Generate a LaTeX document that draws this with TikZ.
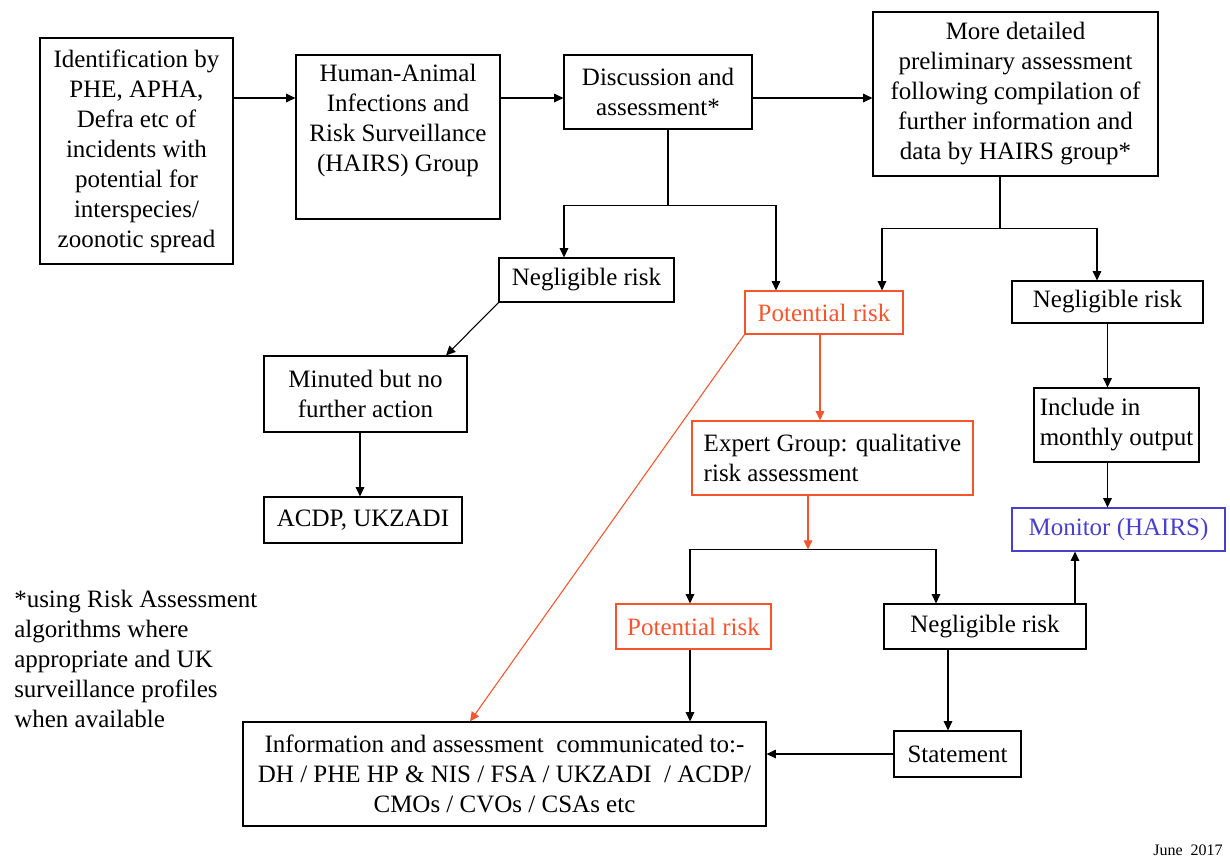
\documentclass[tikz,border=0pt]{standalone}
\usepackage{fontspec}
\setmainfont{Liberation Serif}
\definecolor{riskorange}{RGB}{246,84,44}
\definecolor{hairsblue}{RGB}{72,64,204}
\usetikzlibrary{arrows.meta,calc}

\begin{document}
\begin{tikzpicture}[x=0.75pt,y=-0.75pt,
  font=\fontsize{18.75}{22.5}\selectfont,
  box/.style={draw,line width=0.9pt,inner sep=0pt,align=center},
  sz/.style 2 args={minimum width=#1*0.75pt,minimum height=#2*0.75pt},
  arr/.style={line width=0.8pt,-{Triangle[width=6.5pt,length=7pt]}},
  ln/.style={line width=0.8pt}]
\useasboundingbox (0,0) rectangle (1230,858);

% Top row
\node[box,sz={193}{226}] (ident) at (136.5,151) {Identification by\\PHE, APHA,\\Defra etc of\\incidents with\\potential for\\interspecies/\\zoonotic spread};
\node[box,sz={204}{164}] (hairs) at (398,137) {Human-Animal\\Infections and\\Risk Surveillance\\(HAIRS) Group\\ \strut};
\node[box,sz={188}{74}] (disc) at (658,92) {Discussion and\\assessment*};
\node[box,sz={285}{164}] (more) at (1015.5,94) {More detailed\\preliminary assessment\\following compilation of\\further information and\\data by HAIRS group*};

% First outcomes
\node[box,sz={175}{44}] (neg1) at (586.5,280) {Negligible risk};
\node[box,sz={158}{43},draw=riskorange,text=riskorange] (pot1) at (824,312.5) {Potential risk};
\node[box,sz={191}{42}] (neg2) at (1107.5,302) {Negligible risk};

% Left branch
\node[box,sz={203}{76}] (minuted) at (365.5,394) {Minuted but no\\further action};
\node[box,sz={198}{46}] (acdp) at (363,520) {ACDP, UKZADI};

% Expert group and monitoring
\node[box,sz={281}{74},draw=riskorange,align=left] (expert) at (832.5,458) {Expert Group: qualitative\\risk assessment};
\node[box,sz={165}{74},align=left] (include) at (1116.5,425) {Include in\\monthly output};
\node[box,sz={213}{43},draw=hairsblue,text=hairsblue] (monitor) at (1118.5,529.5) {Monitor (HAIRS)};

% Second outcomes
\node[box,sz={155}{45},draw=riskorange,text=riskorange] (pot2) at (693.5,626.5) {Potential risk};
\node[box,sz={202}{45}] (neg3) at (985,626.5) {Negligible risk};
\node[box,sz={127}{46}] (statement) at (957.5,754) {Statement};
\node[box,sz={523}{104}] (info) at (504.5,774) {Information and assessment~ communicated to:-\\DH / PHE HP \& NIS / FSA / UKZADI~ / ACDP/\\CMOs / CVOs / CSAs etc};

% Notes
\node[anchor=west,align=left,inner sep=0pt] (note) at (14,659) {*using Risk Assessment\\algorithms where\\appropriate and UK\\surveillance profiles\\when available};
\node[anchor=base west,inner sep=0pt,font=\fontsize{12}{14}\selectfont] (date) at (1153,855) {June~~2017};

% Connectors
\coordinate (row) at (0,98);
\draw[arr] (ident.east |- row) -- (hairs.west |- row);
\draw[arr] (hairs.east |- row) -- (disc.west |- row);
\draw[arr] (disc.east |- row) -- (more.west |- row);

\draw[ln] ($(disc.south)+(10,0)$) -- ++(0,76) coordinate (j1);
\draw[arr] (j1) -| ($(neg1.north)+(-22.5,0)$);
\draw[arr] (j1) -| ($(pot1.north)+(-48,0)$);

\draw[ln] ($(more.south)+(-15.5,0)$) -- ++(0,52) coordinate (j2);
\draw[arr] (j2) -| ($(pot1.north)+(58,0)$);
\draw[arr] (j2) -| ($(neg2.north)+(-10.5,0)$);

\draw[arr] (neg1.south west) -- ($(minuted.north)+(80.5,0)$);
\draw[arr] ($(minuted.south)+(-5.5,0)$) -- ($(acdp.north)+(-3,0)$);

\draw[arr,riskorange] ($(pot1.south)+(-4,0)$) -- ($(expert.north)+(-12.5,0)$);
\draw[arr,riskorange] (pot1.south west) -- ($(info.north)+(-34.5,0)$);

\draw[arr,riskorange] ($(expert.south)+(-24.5,0)$) -- ++(0,54) coordinate (j3);
\draw[arr] (j3) -| ($(pot2.north)+(-3.5,0)$);
\draw[arr] (j3) -| ($(neg3.north)+(-49,0)$);

\draw[arr] (neg2.south) -- (neg2.south |- include.north);
\draw[arr] (neg2.south |- include.south) -- (neg2.south |- monitor.north);
\draw[arr] ($(neg3.north)+(90,0)$) -- ($(monitor.south)+(-43.5,0)$);

\coordinate (p2) at ($(pot2.south)+(-3.5,0)$);
\draw[arr] (p2) -- (p2 |- info.north);
\draw[arr] ($(neg3.south)+(-37,0)$) -- ($(statement.north)+(-9.5,0)$);
\draw[arr] (statement.west) -- (statement.west -| info.east);
\end{tikzpicture}
\end{document}
